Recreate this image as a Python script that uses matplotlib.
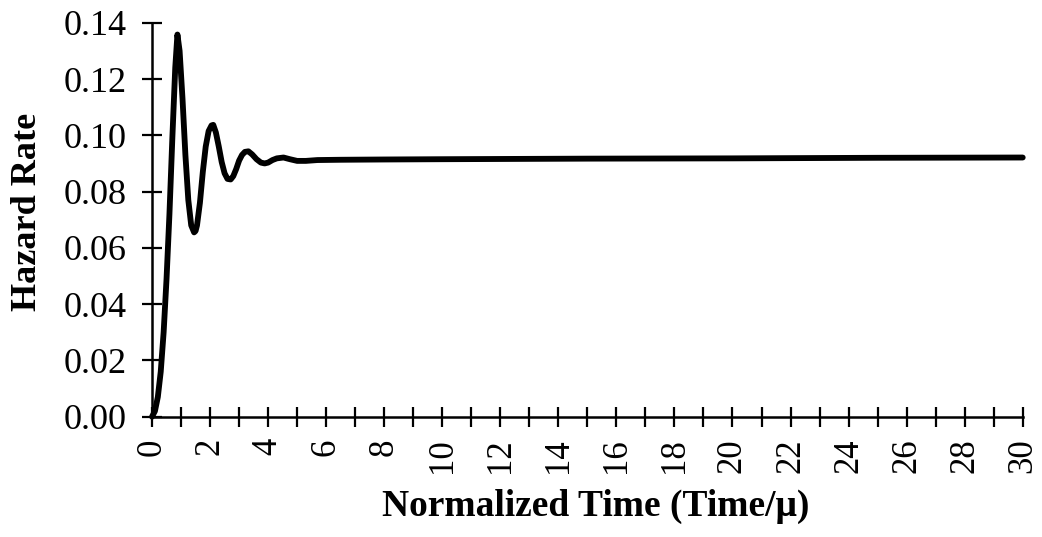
import matplotlib
matplotlib.use("Agg")
import matplotlib.pyplot as plt
from matplotlib.ticker import MultipleLocator, FormatStrFormatter

# Data (normalized time vs hazard rate)
time_norm = [0.0, 0.1, 0.2, 0.3, 0.4, 0.5, 0.6, 0.7, 0.8, 0.875, 0.95, 1.05,
             1.15, 1.25, 1.35, 1.45, 1.5, 1.55, 1.65, 1.75, 1.85, 1.95, 2.05,
             2.11, 2.2, 2.3, 2.4, 2.5, 2.6, 2.71, 2.8, 2.9, 3.0, 3.1, 3.2, 3.32,
             3.45, 3.6, 3.75, 3.88, 4.0, 4.15, 4.3, 4.53, 4.75, 5.0, 5.3, 5.7,
             6.5, 8.0, 10.0, 15.0, 20.0, 25.0, 30.0]
hazard = [0.0, 0.002, 0.007, 0.016, 0.030, 0.049, 0.072, 0.099, 0.124, 0.1358,
          0.130, 0.113, 0.093, 0.077, 0.068, 0.0655, 0.066, 0.068, 0.076, 0.087,
          0.096, 0.1015, 0.1035, 0.1037, 0.101, 0.096, 0.0905, 0.0865, 0.0845,
          0.0843, 0.0855, 0.088, 0.091, 0.093, 0.0941, 0.0943, 0.0932, 0.0915,
          0.0903, 0.0900, 0.0903, 0.0912, 0.0918, 0.0921, 0.0915, 0.0909,
          0.0909, 0.0912, 0.0913, 0.0914, 0.0915, 0.0917, 0.0918, 0.0920, 0.0921]

x_major_ticks = list(range(0, 31, 2))
y_ticks = [0.00, 0.02, 0.04, 0.06, 0.08, 0.10, 0.12, 0.14]

plt.rcParams['font.family'] = ['Liberation Serif', 'DejaVu Serif']

fig = plt.figure(figsize=(10.42, 5.37), dpi=100)
ax = fig.add_axes([0.1459, 0.224, 0.8356, 0.7337])

ax.plot(time_norm, hazard, color='black', lw=4.2, solid_capstyle='round',
        solid_joinstyle='round', clip_on=False, zorder=3)

ax.set_xlim(0, 30)
ax.set_ylim(0, 0.14)

for s in ['top', 'right']:
    ax.spines[s].set_visible(False)
for s in ['left', 'bottom']:
    ax.spines[s].set_linewidth(1.8)

ax.set_xticks(x_major_ticks)
ax.xaxis.set_minor_locator(MultipleLocator(1))
ax.set_yticks(y_ticks)
ax.yaxis.set_major_formatter(FormatStrFormatter('%.2f'))

ax.tick_params(axis='both', which='both', direction='inout', length=15,
               width=1.6, color='black')
ax.tick_params(axis='y', labelsize=26, pad=11)
ax.tick_params(axis='x', labelsize=25, pad=8, labelrotation=90)

ax.set_xlabel('Normalized Time (Time/\u03bc)', fontsize=27, fontweight='bold',
              va='center')
ax.xaxis.set_label_coords(0.509, -0.228)
ax.set_ylabel('Hazard Rate', fontsize=26, fontweight='bold', va='center')
ax.yaxis.set_label_coords(-0.143, 0.52)

fig.savefig('out.png', dpi=100)
